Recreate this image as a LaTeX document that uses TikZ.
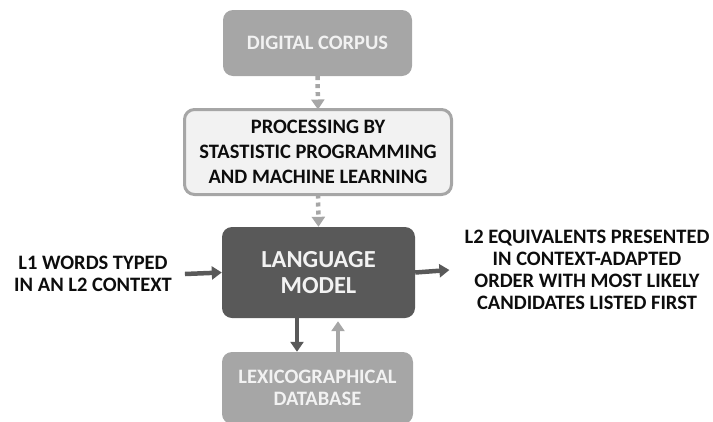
\documentclass[tikz,border=0pt]{standalone}
\usepackage{fontspec}
\setmainfont{Carlito}
\usetikzlibrary{arrows.meta}
\definecolor{dk}{HTML}{595959}
\definecolor{md}{HTML}{A6A6A6}
\definecolor{lt}{HTML}{F2F2F2}
\definecolor{tx}{HTML}{0D0D0D}
\begin{document}
\begin{tikzpicture}[x=1pt,y=-1pt,
  box/.style={rounded corners=10pt, inner sep=0pt, align=center, font=\bfseries\fontsize{20.5}{25}\selectfont},
  txt/.style={align=center, inner sep=0pt, text=tx, font=\bfseries\fontsize{20.5}{22}\selectfont},
  solid arrow/.style={line width=4.5pt, -{Triangle[width=13pt,length=10pt]}},
  dot arrow/.style={line width=4.5pt, dash pattern=on 4pt off 4pt, md, -{Triangle[width=13pt,length=10pt]}}
]
\useasboundingbox (0,0) rectangle (713,421);
\clip (0,0) rectangle (713,421);
\node[box, fill=md, text=lt, minimum width=189pt, minimum height=66pt] (corpus) at (317.5,43) {DIGITAL CORPUS};
\node[box, fill=lt, draw=md, line width=3pt, text=tx, minimum width=267pt, minimum height=85pt] (proc) at (318,152)
  {PROCESSING BY\\STASTISTIC PROGRAMMING\\AND MACHINE LEARNING};
\node[box, fill=dk, text=lt, minimum width=193pt, minimum height=91pt, font=\bfseries\fontsize{24.5}{26}\selectfont] (lm) at (318.5,272.5)
  {LANGUAGE\\MODEL};
\node[box, fill=md, text=lt, minimum width=191pt, minimum height=72pt, font=\bfseries\fontsize{20.5}{22}\selectfont] (lex) at (317.5,388)
  {LEXICOGRAPHICAL\\DATABASE};
\node[txt] (l1) at (93,274) {L1 WORDS TYPED\\IN AN L2 CONTEXT};
\node[txt] (out) at (587,270) {L2 EQUIVALENTS PRESENTED\\IN CONTEXT-ADAPTED\\ORDER WITH MOST LIKELY\\CANDIDATES LISTED FIRST};
\draw[dot arrow] (corpus.south) -- ([yshift=-1.5pt]proc.north);
\draw[dot arrow] ([yshift=1.5pt]proc.south) -- (lm.north);
\draw[solid arrow, dk] ([xshift=13pt]l1.east) -- (lm.west);
\draw[solid arrow, dk] (lm.east) -- ([xshift=-15pt]out.west);
\draw[solid arrow, dk] ([xshift=-21.5pt]lm.south) -- ([xshift=-20.5pt]lex.north);
\draw[solid arrow, md] ([xshift=20.5pt]lex.north) -- ([xshift=19.5pt,yshift=-3pt]lm.south);
\end{tikzpicture}
\end{document}
